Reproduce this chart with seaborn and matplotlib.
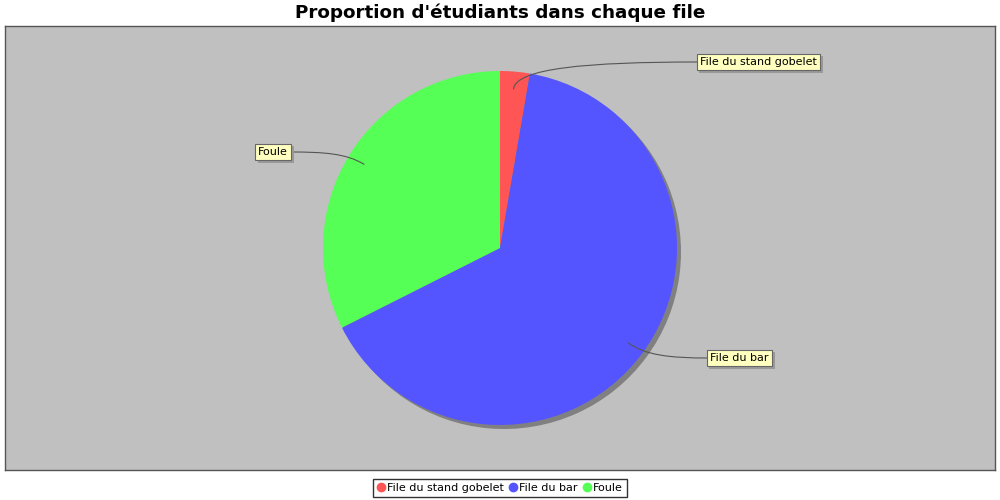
import numpy as np
import matplotlib
matplotlib.use("Agg")
import matplotlib.pyplot as plt
import seaborn as sns
from matplotlib.lines import Line2D
from matplotlib.path import Path
from matplotlib.patches import PathPatch
import matplotlib.patheffects as pe

# données
files = ["File du stand gobelet", "File du bar", "Foule"]
etudiants = [1, 24, 12]
couleurs = ["#FF5555", "#5555FF", "#55FF55"]

sns.set_theme(style="white")
plt.rcParams['font.family'] = ['DejaVu Sans']
plt.rcParams['text.color'] = 'black'

fig = plt.figure(figsize=(10, 5), dpi=100)
fig.patch.set_facecolor("white")

# zone du graphique en coordonnées "pixels" (y vers le haut)
ax = fig.add_axes([5 / 1000, 30 / 500, 990 / 1000, 444 / 500])
ax.set_facecolor("#C0C0C0")
for s in ax.spines.values():
    s.set_color("#555555")
    s.set_linewidth(1)

cx, cy, R = 500, 252, 177

# ombre
ax.pie(etudiants, colors=["#808080"] * len(etudiants), startangle=90,
       counterclock=False, center=(cx + 4, cy - 4), radius=R,
       wedgeprops=dict(linewidth=0), frame=True)
wedges, _ = ax.pie(etudiants, colors=couleurs, startangle=90,
                   counterclock=False, center=(cx, cy), radius=R,
                   wedgeprops=dict(linewidth=0), frame=True)
ax.set_xlim(5, 995)
ax.set_ylim(30, 474)
ax.set_aspect("equal")
ax.set_xticks([])
ax.set_yticks([])

# étiquettes : (x, y) du bord de la boîte du côté du connecteur
positions = {
    "File du stand gobelet": (700, 500 - 62, "left"),
    "File du bar": (710, 500 - 358, "left"),
    "Foule": (288, 500 - 152, "right"),
}

for w, nom in zip(wedges, files):
    mid = np.deg2rad((w.theta1 + w.theta2) / 2)
    ux, uy = np.cos(mid), np.sin(mid)
    p0 = (cx + 0.9 * R * ux, cy + 0.9 * R * uy)
    p1 = (cx + 1.02 * R * ux, cy + 1.02 * R * uy)
    lx, ly, ha = positions[nom]
    sens = 1 if ha == "left" else -1
    p3 = (lx - sens * 2, ly)
    p2 = (p3[0] - sens * 0.6 * abs(p3[0] - p1[0]), ly)
    chemin = Path([p0, p1, p2, p3], [Path.MOVETO, Path.CURVE4, Path.CURVE4, Path.CURVE4])
    ax.add_patch(PathPatch(chemin, facecolor="none", edgecolor="#555555", lw=0.8, zorder=5))
    t = ax.text(lx, ly, nom, ha=ha, va="center", fontsize=8, color="black", zorder=6,
                bbox=dict(boxstyle="square,pad=0.3", facecolor="#FFFFC0",
                          edgecolor="#666666", linewidth=0.8))
    t.get_bbox_patch().set_path_effects([pe.SimplePatchShadow(offset=(2, -2), shadow_rgbFace="#999999", alpha=1), pe.Normal()])

fig.text(0.5, 1 - 13 / 500, "Proportion d'étudiants dans chaque file", ha="center", va="center",
         fontsize=13.2, fontweight="bold", color="black")

handles = [Line2D([0], [0], marker="o", color="none", markerfacecolor=c, markeredgecolor=c,
                  markersize=6) for c in couleurs]
leg = fig.legend(handles, files, loc="center", bbox_to_anchor=(0.5, 1 - 488 / 500), ncol=3,
                 fontsize=8, frameon=True, fancybox=False, handlelength=0.7, handletextpad=0.2,
                 columnspacing=0.5, borderpad=0.35, edgecolor="black")
leg.get_frame().set_linewidth(1)

fig.savefig("out.png", dpi=100, facecolor="white")
